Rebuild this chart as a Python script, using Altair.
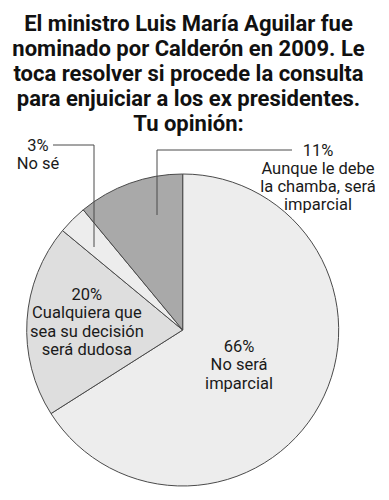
import altair as alt
import pandas as pd

# ---- data ----
categories = [
    "No será imparcial",
    "Cualquiera que sea su decisión será dudosa",
    "No sé",
    "Aunque le debe la chamba, será imparcial",
]
values = [66, 20, 3, 11]
labels = [
    "66%\nNo será\nimparcial",
    "20%\nCualquiera que\nsea su decisión\nserá dudosa",
    "3%\nNo sé",
    "11%\nAunque le debe\nla chamba, será\nimparcial",
]
slice_colors = ["#ededed", "#dedede", "#ededed", "#a9a9a9"]
title_lines = [
    "El ministro Luis María Aguilar fue",
    "nominado por Calderón en 2009. Le",
    "toca resolver si procede la consulta",
    "para enjuiciar a los ex presidentes.",
    "Tu opinión:",
]

df = pd.DataFrame({
    "cat": categories,
    "value": values,
    "label": labels,
    "order": list(range(len(categories))),
})

PT = 130  # top padding holding the title
OX, OY = 8, 8 + PT  # page position of the plot origin


def px(x):
    return x - OX


def py(y):
    return y - OY


CX, CY, R = px(182.7), py(330), 156
TFONT = "Roboto"
LFONT = "Roboto"
LSIZE = 16.5
LH = 18.3
TXT = "#1a1a1a"
LINE = "#4a4a4a"

base = alt.Chart(df)

pie = base.mark_arc(outerRadius=R, stroke="#4a4a4a", strokeWidth=1).encode(
    theta=alt.Theta("value:Q", stack=True),
    order=alt.Order("order:O"),
    color=alt.Color("cat:N", scale=alt.Scale(domain=categories, range=slice_colors), legend=None),
    x=alt.value(CX),
    y=alt.value(CY),
)


def inner_label(cat, radius, dx, dy):
    return base.transform_calculate(
        lbl=f"datum.cat == '{cat}' ? datum.label : ''"
    ).mark_text(
        radius=radius, lineBreak="\n", font=LFONT, fontSize=LSIZE, lineHeight=LH,
        color=TXT, align="center", baseline="middle", dx=dx, dy=dy,
    ).encode(
        theta=alt.Theta("value:Q", stack=True),
        order=alt.Order("order:O"),
        text="lbl:N",
        x=alt.value(CX),
        y=alt.value(CY),
    )


def outer_label(cat, x, y):
    return base.transform_filter(alt.datum.cat == cat).mark_text(
        lineBreak="\n", font=LFONT, fontSize=LSIZE, lineHeight=LH,
        color=TXT, align="center", baseline="middle",
    ).encode(text="label:N", x=alt.value(px(x)), y=alt.value(py(y)))


def hrule(cat, x1, x2, y):
    return base.transform_filter(alt.datum.cat == cat).mark_rule(
        color=LINE, strokeWidth=1
    ).encode(x=alt.value(px(x1)), x2=alt.value(px(x2)), y=alt.value(py(y)))


def vrule(cat, x, y1, y2):
    return base.transform_filter(alt.datum.cat == cat).mark_rule(
        color=LINE, strokeWidth=1
    ).encode(x=alt.value(px(x)), y=alt.value(py(y1)), y2=alt.value(py(y2)))


chart = alt.layer(
    pie,
    inner_label(categories[0], 67, -2.4, -15.3),
    inner_label(categories[1], 96, 0, -29),
    outer_label(categories[3], 318, 150.5),
    outer_label(categories[2], 38, 145.5),
    hrule(categories[3], 157, 292, 150),
    vrule(categories[3], 157, 150, 215),
    hrule(categories[2], 53, 94, 145),
    vrule(categories[2], 94, 145, 247),
).properties(
    width=373,
    height=484 - PT,
    padding={"left": 0, "top": PT, "right": 0, "bottom": 0},
    autosize=alt.AutoSizeParams(type="none"),
    title=alt.TitleParams(
        text=title_lines,
        font=TFONT,
        fontSize=22,
        fontWeight="bold",
        color="#111111",
        anchor="middle",
        lineHeight=25.1,
        offset=1,
        dx=-6,
    ),
).configure_view(stroke=None)

chart.save("out.html", embed_options={"renderer": "svg", "actions": False})
